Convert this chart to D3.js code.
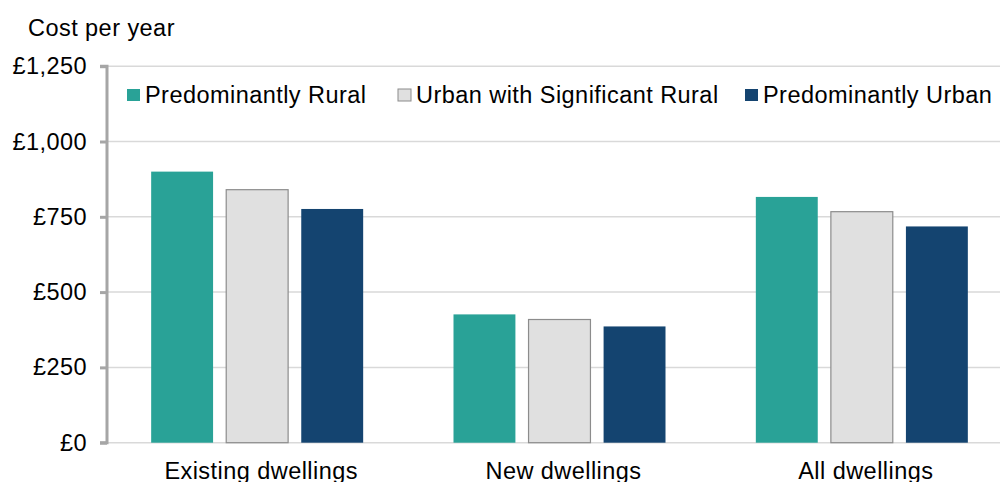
<!DOCTYPE html>
<html><head><meta charset="utf-8">
<script src="https://cdn.jsdelivr.net/npm/d3@7"></script>
<style>body{margin:0;background:#fff;}svg{display:block;font-family:"Liberation Sans",Arial,sans-serif;}</style>
</head><body>
<svg id="c" width="1000" height="482"></svg>
<script>
const categories = ["Existing dwellings", "New dwellings", "All dwellings"];
const seriesNames = ["Predominantly Rural", "Urban with Significant Rural", "Predominantly Urban"];
const rural = [900, 426, 816];
const urbanSigRural = [840, 409, 767];
const urban = [776, 386, 718];
const yTicks = [0, 250, 500, 750, 1000, 1250];
const yTickLabels = ["£0", "£250", "£500", "£750", "£1,000", "£1,250"];
const colors = ["#29a297", "#e0e0e0", "#144470"];

const FS = 23.5;
const LS = "0.45px";
const svg = d3.select("#c");
const x0 = d3.scaleBand().domain(categories).range([106, 1013]).paddingInner(0).paddingOuter(0);
const y = d3.scaleLinear().domain([0, 1250]).range([442.7, 66.2]);
const groupW = 212;
const x1 = d3.scaleBand().domain(seriesNames).range([0, groupW]).paddingInner(0.175);

// gridlines
svg.append("g").selectAll("line").data(yTicks).join("line")
  .attr("x1", 106).attr("x2", 1000)
  .attr("y1", d => y(d)).attr("y2", d => y(d))
  .attr("stroke", "#d9d9d9").attr("stroke-width", 1.5);

// bars
const series = [rural, urbanSigRural, urban];
seriesNames.forEach((s, si) => {
  svg.append("g").selectAll("rect").data(categories).join("rect")
    .attr("x", c => x0(c) + (x0.bandwidth() - groupW) / 2 + x1(s))
    .attr("width", x1.bandwidth())
    .attr("y", (c, i) => y(series[si][i]))
    .attr("height", (c, i) => y(0) - y(series[si][i]))
    .attr("fill", colors[si])
    .attr("stroke", si === 1 ? "#8c8c8c" : "none")
    .attr("stroke-width", si === 1 ? 1.2 : 0);
});

// y axis
const yAxis = d3.axisLeft(y).tickValues(yTicks).tickFormat((d, i) => yTickLabels[i]).tickSize(7).tickPadding(13);
const ga = svg.append("g").attr("transform", "translate(107,0)").call(yAxis);
ga.select(".domain").attr("stroke", "#a6a6a6").attr("stroke-width", 3).attr("d", `M-7,${y(1250)}H0V${y(0)}H-7`);
ga.selectAll(".tick line").attr("stroke", "#a6a6a6").attr("stroke-width", 3);
ga.selectAll(".tick text").attr("font-size", FS).attr("fill", "#000").attr("letter-spacing", LS)
  .attr("font-family", "Liberation Sans, Arial, sans-serif");

// x labels
svg.append("g").selectAll("text").data(categories).join("text")
  .attr("x", c => x0(c) + x0.bandwidth() / 2 + 4)
  .attr("y", 479)
  .attr("text-anchor", "middle").attr("font-size", FS).attr("letter-spacing", LS).attr("fill", "#000")
  .text(c => c);

// title
svg.append("text").attr("x", 28).attr("y", 36).attr("font-size", FS).attr("letter-spacing", LS).attr("fill", "#000").text("Cost per year");

// legend
const legendX = [127, 398, 745];
const lg = svg.append("g");
seriesNames.forEach((s, i) => {
  lg.append("rect").attr("x", legendX[i]).attr("y", 89).attr("width", 13).attr("height", 12)
    .attr("fill", colors[i]).attr("stroke", i === 1 ? "#8c8c8c" : "none").attr("stroke-width", 1);
  lg.append("text").attr("x", legendX[i] + 18).attr("y", 103).attr("font-size", FS).attr("letter-spacing", LS)
    .attr("fill", "#000").text(s);
});
</script>
</body></html>
